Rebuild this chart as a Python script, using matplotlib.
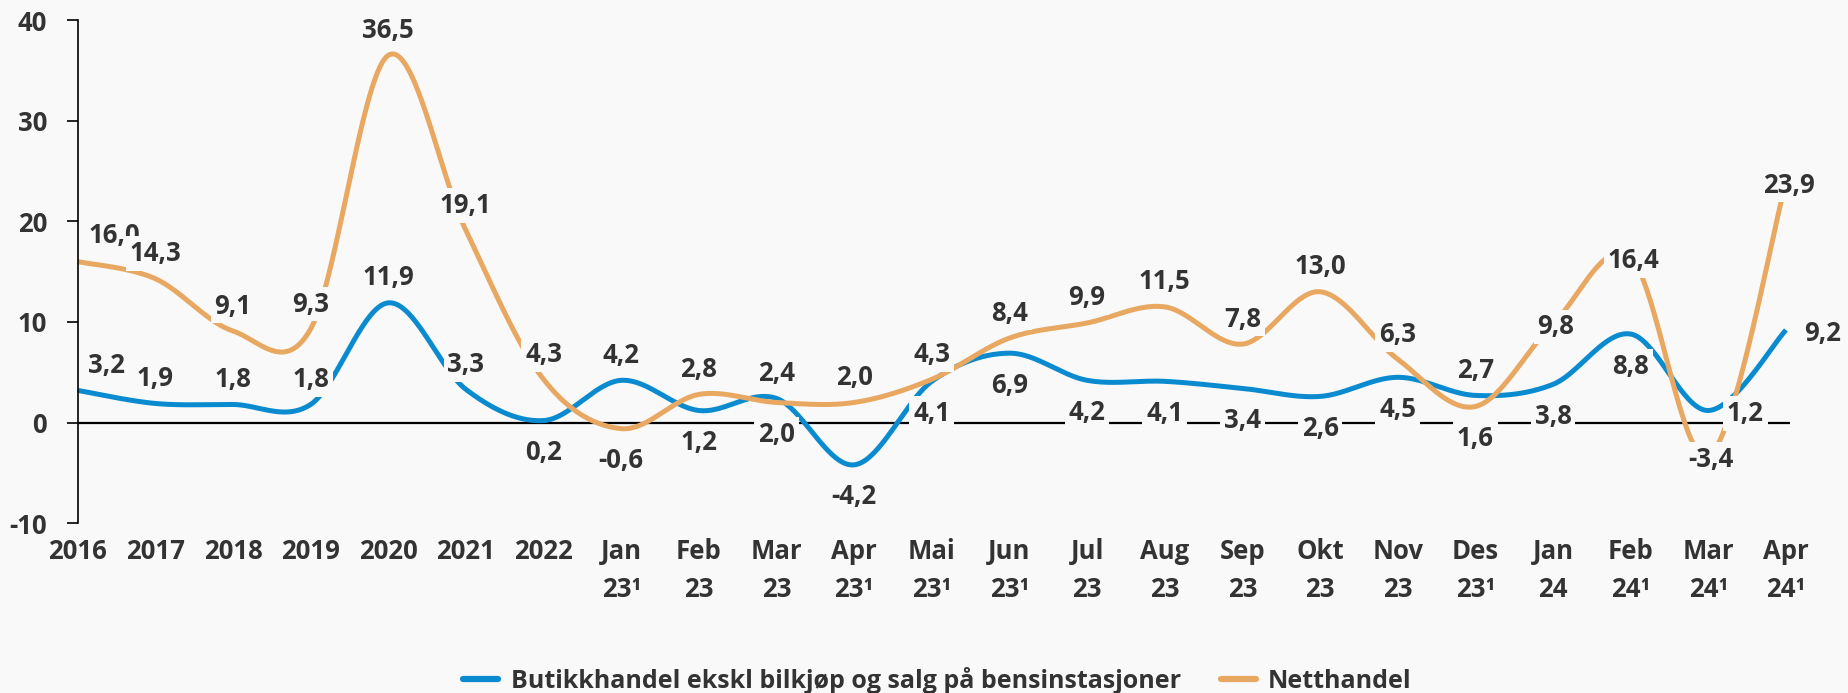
import numpy as np
import matplotlib.pyplot as plt
from matplotlib.lines import Line2D

plt.rcParams['axes.unicode_minus'] = False

# categories (x axis) and the two series
categories = ['2016', '2017', '2018', '2019', '2020', '2021', '2022',
              'Jan\n23¹', 'Feb\n23', 'Mar\n23', 'Apr\n23¹', 'Mai\n23¹', 'Jun\n23¹',
              'Jul\n23', 'Aug\n23', 'Sep\n23', 'Okt\n23', 'Nov\n23', 'Des\n23¹',
              'Jan\n24', 'Feb\n24¹', 'Mar\n24¹', 'Apr\n24¹']
butikk = [3.2, 1.9, 1.8, 1.8, 11.9, 3.3, 0.2, 4.2, 1.2, 2.4, -4.2, 4.1, 6.9,
          4.2, 4.1, 3.4, 2.6, 4.5, 2.7, 3.8, 8.8, 1.2, 9.2]
nett = [16.0, 14.3, 9.1, 9.3, 36.5, 19.1, 4.3, -0.6, 2.8, 2.0, 2.0, 4.3, 8.4,
        9.9, 11.5, 7.8, 13.0, 6.3, 1.6, 9.8, 16.4, -3.4, 23.9]
series_names = ['Butikkhandel ekskl bilkjøp og salg på bensinstasjoner', 'Netthandel']

# label placement: a=above, b=below, c=centre, r=right, ar=above right
pos_butikk = ['ar', 'a', 'a', 'a', 'a', 'a', 'b', 'a', 'b', 'a', 'b', 'b', 'b',
              'b', 'b', 'b', 'b', 'b', 'a', 'b', 'b', 'r', 'r']
pos_nett = ['ar2', 'a', 'a', 'a', 'a', 'a', 'a', 'b', 'a', 'b', 'a', 'a', 'a',
            'a', 'a', 'a', 'a', 'a', 'b', 'c', 'c', 'c', 'c']
offsets = {'a': (0, 25), 'b': (0, -32), 'c': (3, -3), 'r': (37, -3),
           'ar': (29, 25), 'ar2': (37, 26)}

BLUE = '#0A8BD0'
ORANGE = '#E8A862'
BG = '#F9F9F9'
TXT = '#333333'
FONT = 'Open Sans'
FS = 18.5


def smooth(y, n=40):
    # excel-like smoothed line (catmull-rom as bezier)
    y = np.asarray(y, float)
    x = np.arange(len(y), dtype=float)
    xs, ys = [], []
    for i in range(len(y) - 1):
        p0 = max(i - 1, 0)
        p3 = min(i + 2, len(y) - 1)
        bx = [x[i], x[i] + (x[i + 1] - x[p0]) / 6, x[i + 1] - (x[p3] - x[i]) / 6, x[i + 1]]
        by = [y[i], y[i] + (y[i + 1] - y[p0]) / 6, y[i + 1] - (y[p3] - y[i]) / 6, y[i + 1]]
        t = np.linspace(0, 1, n)
        b = [(1 - t) ** 3, 3 * (1 - t) ** 2 * t, 3 * (1 - t) * t ** 2, t ** 3]
        xs.append(sum(b[k] * bx[k] for k in range(4)))
        ys.append(sum(b[k] * by[k] for k in range(4)))
    return np.concatenate(xs), np.concatenate(ys)


fig = plt.figure(figsize=(18.49, 6.93), dpi=100, facecolor=BG)
ax = fig.add_axes([0.042, 0.245, 0.926, 0.726], facecolor=BG)

x = np.arange(len(categories))
ax.axhline(0, color='black', lw=1.6, zorder=1)

for vals, col in [(butikk, BLUE), (nett, ORANGE)]:
    sx, sy = smooth(vals)
    ax.plot(sx, sy, color=col, lw=3.6, solid_capstyle='butt', zorder=2, clip_on=False)

for vals, poss in [(butikk, pos_butikk), (nett, pos_nett)]:
    for i, (v, p) in enumerate(zip(vals, poss)):
        ax.annotate(f'{v:.1f}'.replace('.', ','), (i, v), xytext=offsets[p],
                    textcoords='offset pixels', ha='center', va='center',
                    fontsize=FS, fontweight='bold', family=FONT, color=TXT,
                    bbox=dict(boxstyle='square,pad=0.15', fc=BG, ec='none'),
                    zorder=3, annotation_clip=False)

ax.set_xlim(0, 22.05)
ax.set_ylim(-10, 40)
ax.set_yticks([-10, 0, 10, 20, 30, 40])
ax.set_xticks(x)
ax.set_xticklabels(categories, fontsize=FS, fontweight='bold', family=FONT,
                   color=TXT, linespacing=1.5, va='top')
ax.tick_params(axis='x', length=0, pad=11)
ax.tick_params(axis='y', length=8, width=1.2, pad=14, direction='out',
               labelsize=FS, labelcolor=TXT)
for lab in ax.get_yticklabels():
    lab.set_fontweight('bold')
    lab.set_family(FONT)
for s in ['top', 'right', 'bottom']:
    ax.spines[s].set_visible(False)
ax.spines['left'].set_linewidth(1.2)

handles = [Line2D([], [], color=BLUE, lw=4.5, solid_capstyle='round'),
           Line2D([], [], color=ORANGE, lw=4.5, solid_capstyle='round')]
fig.legend(handles, series_names, loc='center', bbox_to_anchor=(0.507, 0.018),
           ncol=2, frameon=False, handlelength=1.4, handletextpad=0.5, columnspacing=1.6,
           prop={'family': FONT, 'weight': 'bold', 'size': 18}, labelcolor=TXT)

fig.savefig('out.png', dpi=100, facecolor=BG)
